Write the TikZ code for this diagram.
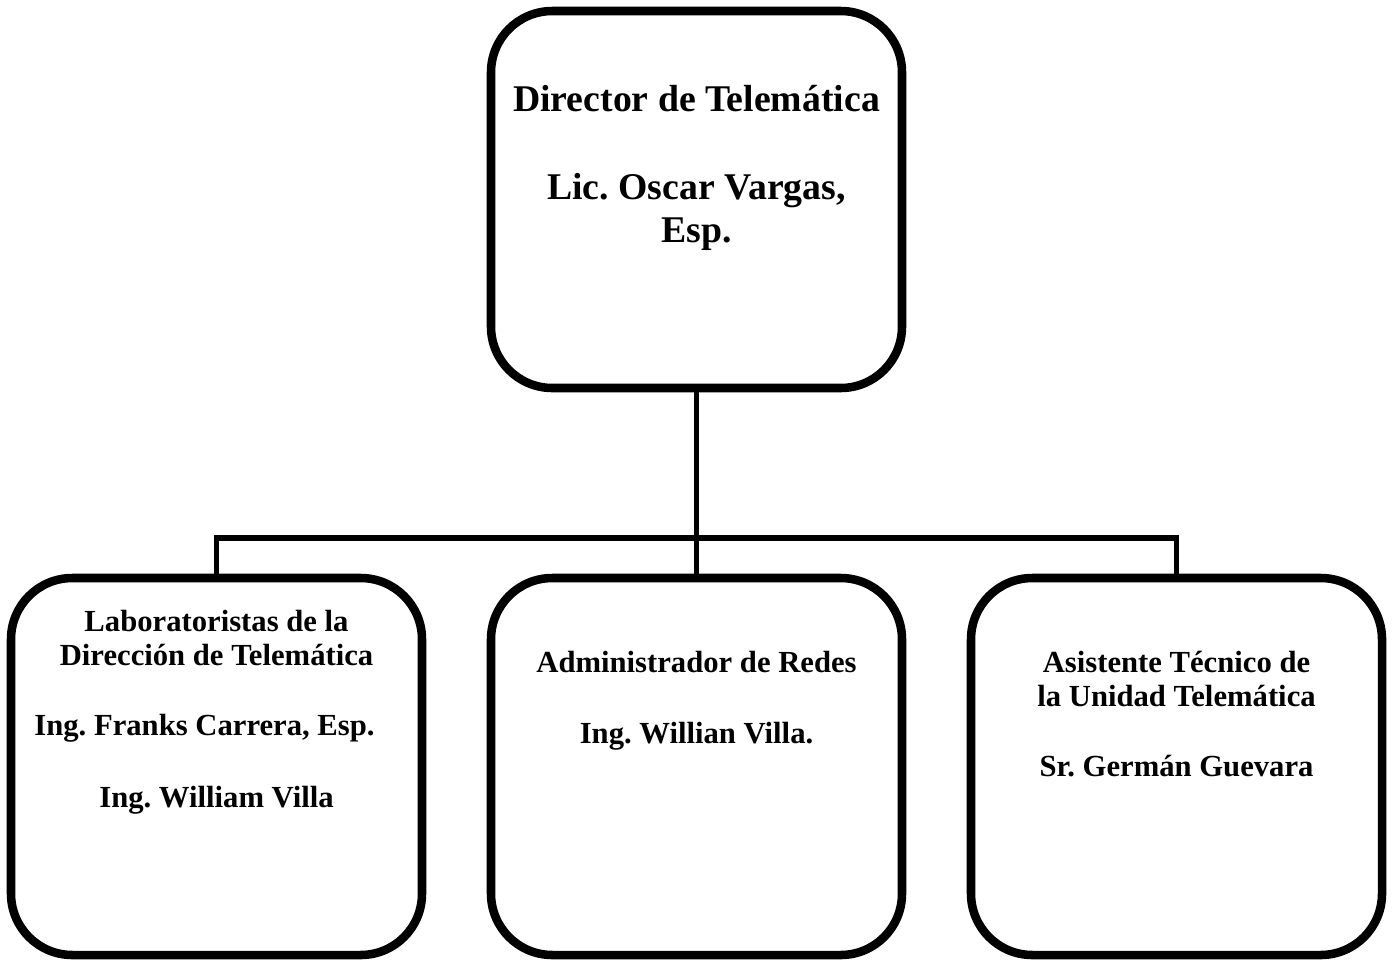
\documentclass[tikz,border=0pt]{standalone}
\usepackage{fontspec}
\setmainfont{Liberation Serif}
\usetikzlibrary{positioning}

\tikzset{every picture/.style={line width=0.75pt}}
\tikzset{
  orgbox/.style={draw, line width=6.4pt, rounded corners=46pt, minimum width=308.25pt, minimum height=282.75pt, inner sep=0pt},
  orgline/.style={line width=4.2pt, line join=miter},
  bigtxt/.style={font=\fontsize{28.3}{32}\selectfont\bfseries\frenchspacing, align=center, anchor=north, inner sep=0pt},
  smalltxt/.style={font=\fontsize{23}{25}\selectfont\bfseries\frenchspacing, align=center, anchor=north, inner sep=0pt}
}

\begin{document}
\begin{tikzpicture}[x=0.75pt,y=0.75pt,yscale=-1,xscale=1]
\useasboundingbox (0,0) rectangle (1394,961);

%Rounded Rect [id:director] 
\node [orgbox] (dir) at (696.5,199.5) {};
%Rounded Rect [id:laboratoristas] 
\node [orgbox] (lab) at (216.5,766.5) {};
%Rounded Rect [id:administrador] 
\node [orgbox] (adm) at (696.5,766.5) {};
%Rounded Rect [id:asistente] 
\node [orgbox] (asi) at (1176.5,766.5) {};

%Straight Lines 
\coordinate (bus) at (696.5,538);
\draw [orgline] (dir.south) -- (bus);
\draw [orgline] (lab.north) |- (bus) -| (asi.north);
\draw [orgline] (bus) -- (adm.north);

% Text Node
\node [bigtxt] (dirtxt) at (696.5,85) {Director de Telemática\\[34pt] Lic. Oscar Vargas,\\ Esp.};
% Text Node
\node [smalltxt] (labtxt) at (216.5,610) {Laboratoristas de la\\ Dirección de Telemática\\[28pt] Ing. Franks Carrera, Esp.\hspace*{18pt}\mbox{}\\[29pt] Ing. William Villa};
% Text Node
\node [smalltxt] (admtxt) at (696.5,651) {Administrador de Redes\\[28pt] Ing. Willian Villa.};
% Text Node
\node [smalltxt] (asitxt) at (1176.5,651) {Asistente Técnico de\\ la Unidad Telemática\\[28pt] Sr. Germán Guevara};

\end{tikzpicture}
\end{document}
